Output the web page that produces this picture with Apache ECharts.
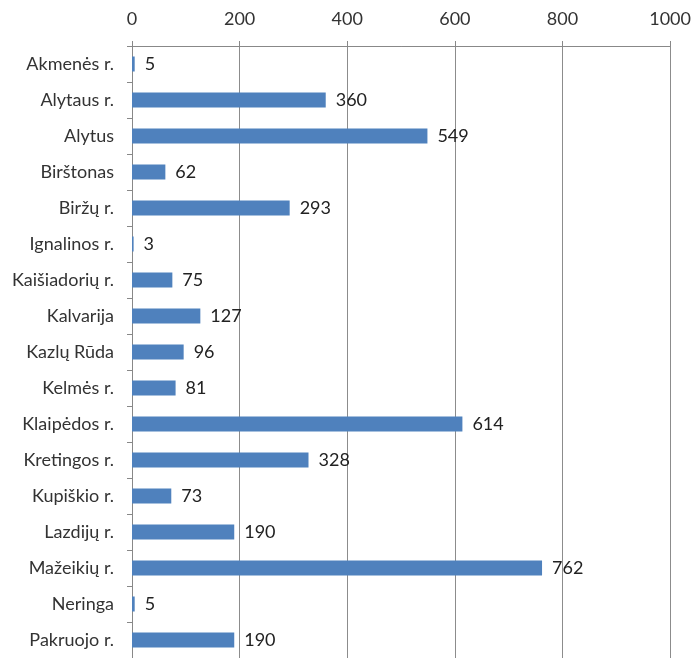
<!DOCTYPE html>
<html><head><meta charset="utf-8">
<script src="https://cdn.jsdelivr.net/npm/echarts@6/dist/echarts.min.js"></script>
<style>html,body{margin:0;padding:0;background:#fff}#c{width:694px;height:658px}</style>
</head><body><div id="c"></div>
<script>
const categories = ["Akmenės r.","Alytaus r.","Alytus","Birštonas","Biržų r.","Ignalinos r.","Kaišiadorių r.","Kalvarija","Kazlų Rūda","Kelmės r.","Klaipėdos r.","Kretingos r.","Kupiškio r.","Lazdijų r.","Mažeikių r.","Neringa","Pakruojo r."];
const values = [5,360,549,62,293,3,75,127,96,81,614,328,73,190,762,5,190];
const xTicks = [0,200,400,600,800,1000];
const font = "Lato";
const chart = echarts.init(document.getElementById('c'));
chart.setOption({
  animation:false,
  grid:{left:132,top:46,width:540,height:618,containLabel:false},
  xAxis:{type:'value',position:'top',min:0,max:1000,interval:200,
    axisLine:{show:true,lineStyle:{color:'#888'}},
    axisTick:{show:true,length:5,lineStyle:{color:'#888'}},
    axisLabel:{margin:18,color:'#333',fontSize:18,fontFamily:font,formatter:v=>xTicks.includes(v)?String(v):''},
    splitLine:{show:true,lineStyle:{color:'#8c8c8c',width:1}}},
  yAxis:{type:'category',inverse:true,data:categories,
    axisLine:{show:true,lineStyle:{color:'#888'}},
    axisTick:{show:true,length:5,lineStyle:{color:'#888'}},
    axisLabel:{margin:18,color:'#333',fontSize:18,fontFamily:font}},
  series:[{type:'bar',data:values,barWidth:15,itemStyle:{color:'#4F81BD'},
    label:{show:true,position:'right',distance:10,color:'#222',fontSize:18,fontFamily:font}}]
});
</script></body></html>
